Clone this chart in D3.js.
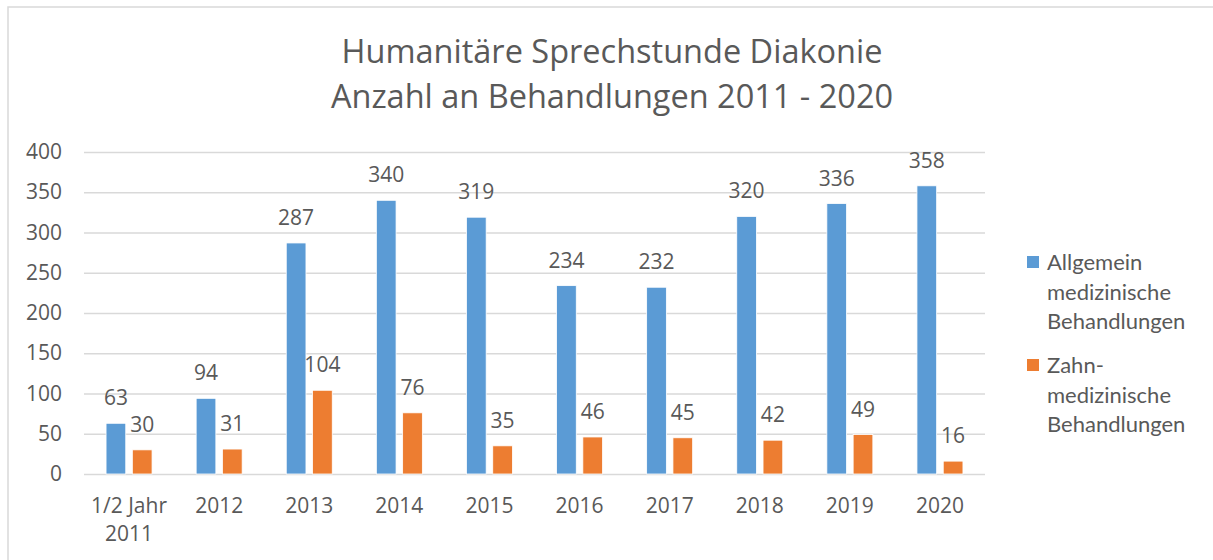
<!DOCTYPE html>
<html>
<head>
<meta charset="utf-8">
<script src="https://cdn.jsdelivr.net/npm/d3@7"></script>
<style>
  body { margin: 0; background: #fff; }
  svg { display: block; }
</style>
</head>
<body>
<div id="chart"></div>
<script>
// data
const categories = ["1/2 Jahr\n2011", "2012", "2013", "2014", "2015", "2016", "2017", "2018", "2019", "2020"];
const allgemein = [63, 94, 287, 340, 319, 234, 232, 320, 336, 358];
const zahn = [30, 31, 104, 76, 35, 46, 45, 42, 49, 16];
const seriesNames = [["Allgemein", "medizinische", "Behandlungen"], ["Zahn-", "medizinische", "Behandlungen"]];
const yTicks = [0, 50, 100, 150, 200, 250, 300, 350, 400];
const titleLines = ["Humanitäre Sprechstunde  Diakonie", "Anzahl an Behandlungen 2011 - 2020"];

const colors = ["#5B9BD5", "#ED7D31"];
const textColor = "#595959";
const fontMain = "'Open Sans', 'DejaVu Sans', sans-serif";
const numSize = '21px';

const W = 1213, H = 560;
const margin = { top: 152, right: 228, bottom: 86, left: 84 };
const width = W - margin.left - margin.right;
const height = H - margin.top - margin.bottom;

const svg = d3.select('#chart').append('svg')
    .attr('width', W)
    .attr('height', H);

// outer chart border (only top/left visible in the crop)
svg.append('rect')
    .attr('x', 8).attr('y', 7)
    .attr('width', W + 20).attr('height', H + 20)
    .attr('fill', 'none')
    .attr('stroke', '#D9D9D9')
    .attr('stroke-width', 1.5);

// title
svg.append('text')
    .attr('text-anchor', 'middle')
    .style('font-family', fontMain)
    .style('font-size', '32.5px')
    .style('fill', textColor)
    .selectAll('tspan')
    .data(titleLines)
    .enter().append('tspan')
    .attr('x', 612)
    .attr('y', (d, i) => 63 + i * 45)
    .text(d => d);

const g = svg.append('g')
    .attr('transform', 'translate(' + margin.left + ',' + margin.top + ')');

const x0 = d3.scaleBand().domain(d3.range(categories.length)).range([0, width]);
const half = 23;
const x1 = d3.scaleBand().domain([0, 1])
    .range([x0.bandwidth() / 2 - half, x0.bandwidth() / 2 + half])
    .paddingInner(0.25);
const y = d3.scaleLinear().domain([0, 400]).range([height, 0]);

// gridlines + y labels
const yAxis = d3.axisLeft(y).tickValues(yTicks).tickSize(-width).tickPadding(22);
const axisG = g.append('g').call(yAxis);
axisG.select('.domain').remove();
axisG.selectAll('line').attr('stroke', '#D9D9D9').attr('stroke-width', 1.3);
axisG.selectAll('text')
    .style('font-family', fontMain)
    .style('font-size', numSize)
    .style('fill', textColor);

// bars
const rows = categories.map((c, i) => ({ i: i, values: [allgemein[i], zahn[i]] }));

const groups = g.selectAll('g.cat')
    .data(rows)
    .enter().append('g')
    .attr('class', 'cat')
    .attr('transform', d => 'translate(' + x0(d.i) + ',0)');

groups.selectAll('rect')
    .data(d => d.values.map((v, s) => ({ v: v, s: s })))
    .enter().append('rect')
    .attr('x', d => x1(d.s))
    .attr('y', d => y(d.v))
    .attr('width', x1.bandwidth())
    .attr('height', d => height - y(d.v))
    .attr('fill', d => colors[d.s])
    .attr('stroke', '#fff')
    .attr('stroke-width', 0.8);

groups.selectAll('text.val')
    .data(d => d.values.map((v, s) => ({ v: v, s: s })))
    .enter().append('text')
    .attr('class', 'val')
    .attr('x', d => x1(d.s) + x1.bandwidth() / 2)
    .attr('y', d => y(d.v) - 18)
    .attr('text-anchor', 'middle')
    .style('font-family', fontMain)
    .style('font-size', numSize)
    .style('fill', textColor)
    .text(d => d.v);

// category labels
const catText = g.selectAll('text.cat')
    .data(categories)
    .enter().append('text')
    .attr('class', 'cat')
    .attr('text-anchor', 'middle')
    .style('font-family', fontMain)
    .style('font-size', numSize)
    .style('fill', textColor);

catText.selectAll('tspan')
    .data((d, i) => d.split('\n').map(t => ({ t: t, i: i })))
    .enter().append('tspan')
    .attr('x', d => x0(d.i) + x0.bandwidth() / 2)
    .attr('y', (d, j) => height + 39 + j * 28)
    .text(d => d.t);

// legend
const legend = svg.append('g')
    .selectAll('g')
    .data(seriesNames)
    .enter().append('g')
    .attr('transform', (d, i) => 'translate(1027,' + (270 + i * 103) + ')');

legend.append('rect')
    .attr('x', 0).attr('y', -14)
    .attr('width', 12).attr('height', 12)
    .attr('fill', (d, i) => colors[i]);

legend.append('text')
    .style('font-family', "Lato, 'Open Sans', sans-serif")
    .style('font-size', '22px')
    .style('fill', textColor)
    .selectAll('tspan')
    .data(d => d)
    .enter().append('tspan')
    .attr('x', 20)
    .attr('y', (d, j) => j * 29.5)
    .text(d => d);
</script>
</body>
</html>
